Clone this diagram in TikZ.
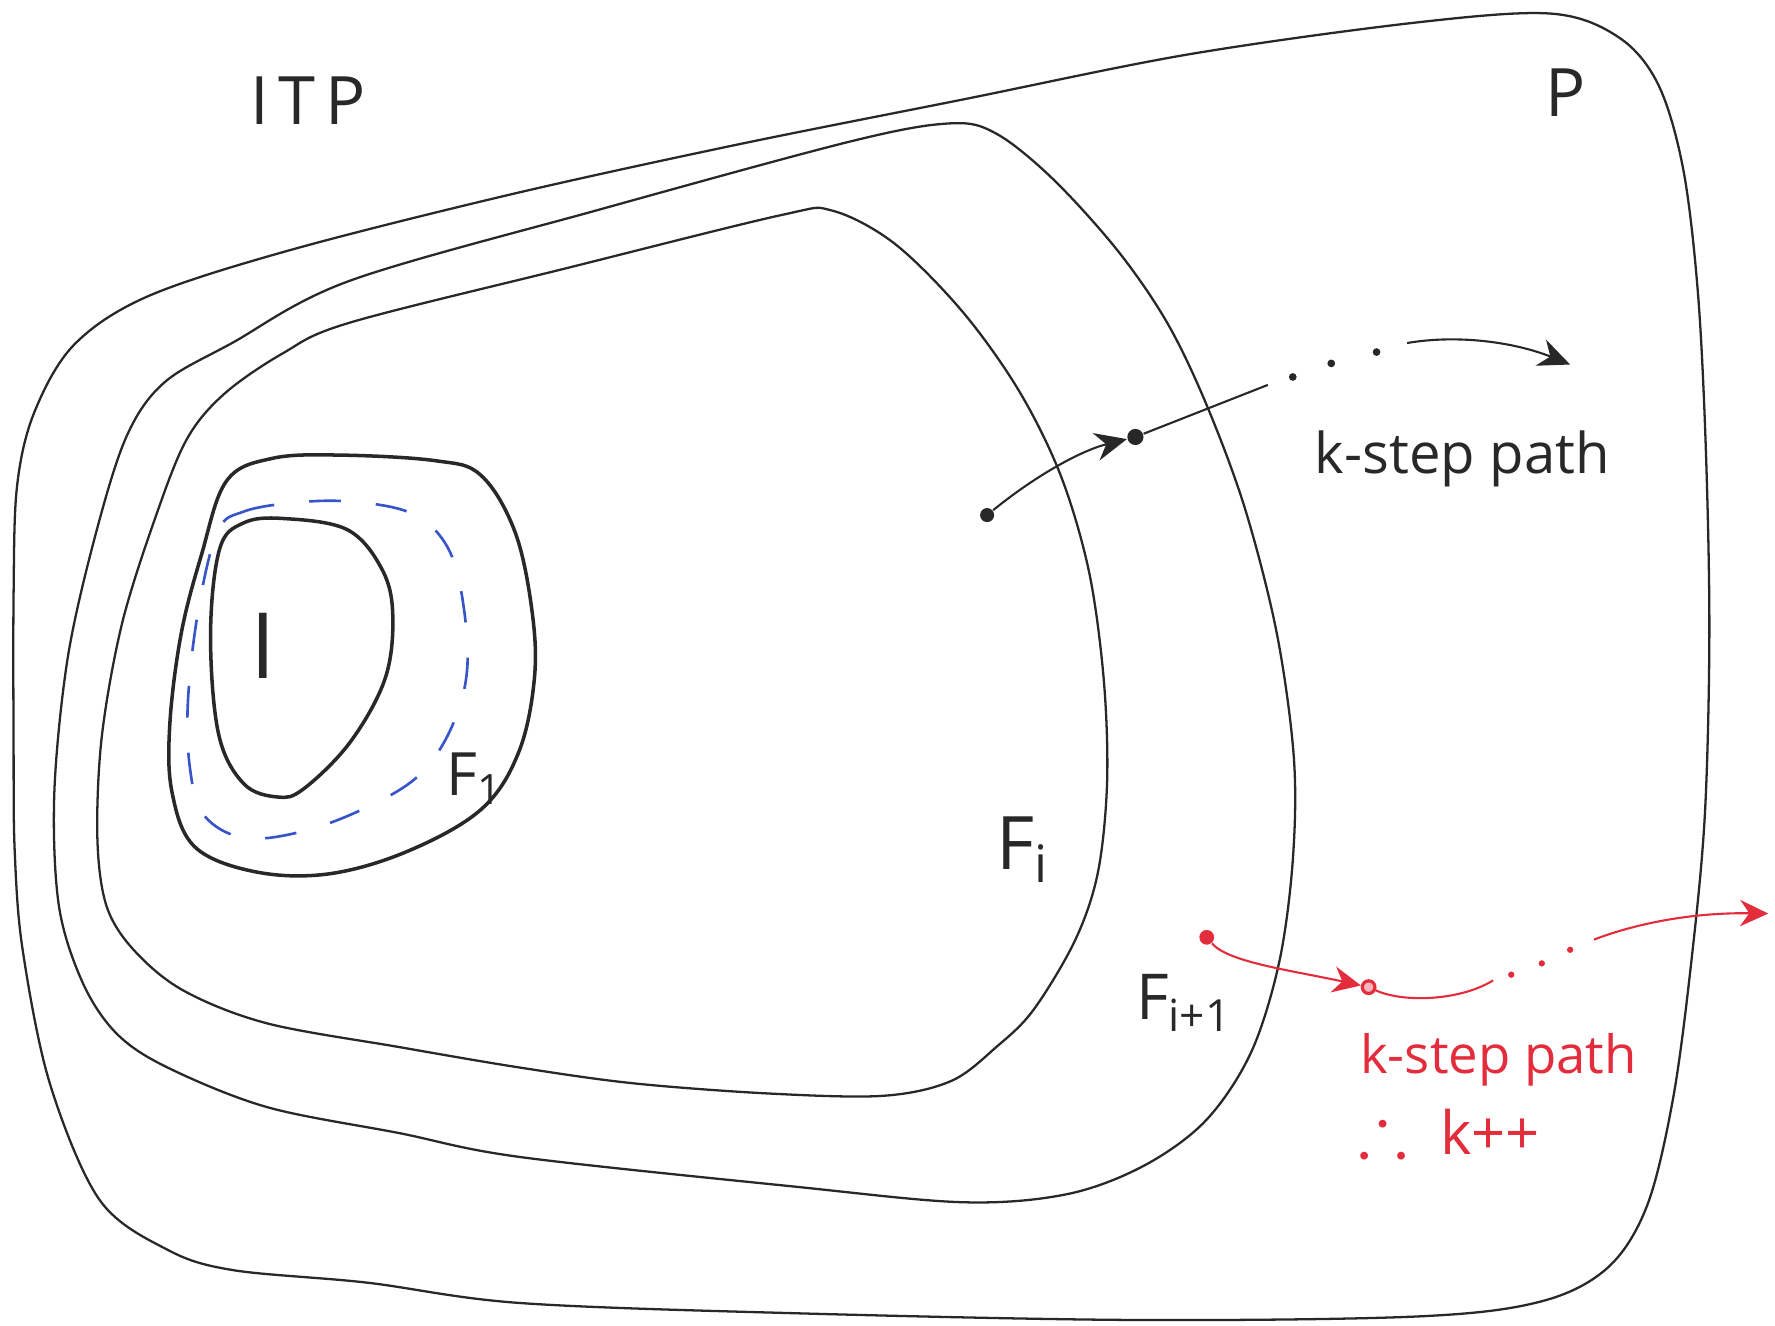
\documentclass[tikz,border=0pt]{standalone}
\usepackage{fontspec}
\setmainfont{Open Sans}
\usepackage{amssymb}
\usetikzlibrary{arrows.meta}

\definecolor{inkblack}{RGB}{40,40,40}
\definecolor{inkblue}{RGB}{55,85,200}
\definecolor{inkred}{RGB}{228,45,60}

\begin{document}
\begin{tikzpicture}[x=0.1132mm, y=-0.1132mm,
	region/.style={draw=inkblack, line width=0.65pt},
	core/.style={draw=inkblack, line width=1pt},
	guess/.style={draw=inkblue, line width=0.75pt, dash pattern=on 9pt off 10pt},
	lbl/.style={text=inkblack, inner sep=0pt, anchor=base west},
	bigdot/.style={circle, fill=inkblack, inner sep=0pt, minimum size=4pt},
	smalldot/.style={circle, fill=inkblack, inner sep=0pt, minimum size=2.2pt},
	redbig/.style={circle, fill=inkred, inner sep=0pt, minimum size=4.2pt},
	redring/.style={circle, draw=inkred, fill=inkred!35, line width=0.9pt, inner sep=0pt, minimum size=3.6pt},
	redsmall/.style={circle, fill=inkred, inner sep=0pt, minimum size=1.8pt},
	btrace/.style={draw=inkblack, line width=0.6pt, -{Stealth[length=9pt, width=8pt]}},
	rtrace/.style={draw=inkred, line width=0.6pt, -{Stealth[length=8pt, width=7.5pt]}},
]
\useasboundingbox (0,0) rectangle (1568,1171);

% P
\draw[region] plot[smooth cycle, tension=0.55] coordinates {
	(256,221) (450,172) (650,128) (850,88) (1050,48) (1250,20) (1370,12) (1430,33)
	(1465,75) (1487,150) (1500,260) (1507,400) (1510,560) (1506,720) (1494,850)
	(1478,970) (1455,1065) (1420,1120) (1360,1150) (1250,1163) (1000,1166) (700,1160)
	(459,1151) (324,1133) (206,1122) (148,1104) (88,1060) (44,957) (20,839) (13,752)
	(12,661) (12,525) (15,430) (30,365) (65,305) (130,262)};

% F_{i+1}
\draw[region] plot[smooth cycle, tension=0.55] coordinates {
	(309,248) (530,185) (751,125) (839,109) (880,118) (930,158) (987,221) (1031,285)
	(1066,358) (1100,450) (1128,560) (1143,670) (1142,760) (1130,850) (1105,930)
	(1065,990) (1010,1030) (942,1055) (850,1062) (700,1048) (459,1022) (353,1001)
	(236,978) (148,943) (103,913) (73,868) (52,800) (48,700) (60,580) (85,470)
	(112,385) (145,338) (205,303)};

% F_i
\draw[region] plot[smooth cycle, tension=0.55] coordinates {
	(309,285) (500,237) (690,190) (735,186) (790,215) (850,275) (900,345) (937,420)
	(962,505) (975,600) (978,690) (970,770) (950,830) (913,892) (880,925) (840,955)
	(780,968) (680,966) (560,957) (459,943) (353,925) (236,904) (162,875) (118,839)
	(94,800) (86,740) (90,650) (108,550) (138,455) (165,388) (198,348) (250,312)};

% F_1, I and the dashed guess
\draw[core] plot[smooth cycle, tension=0.6] coordinates {
	(200,425) (240,405) (300,402) (385,407) (425,420) (455,470) (470,540) (472,600)
	(458,665) (425,715) (360,752) (290,772) (225,770) (172,748) (152,700) (150,640)
	(160,560) (178,490)};
\draw[core] plot[smooth cycle, tension=0.6] coordinates {
	(215,462) (250,458) (307,468) (338,504) (347,545) (340,600) (309,656) (268,697)
	(245,704) (215,692) (193,648) (186,560) (194,485)};
\draw[guess] plot[smooth cycle, tension=0.6] coordinates {
	(192,470) (215,452) (260,444) (309,443) (360,452) (390,475) (406,515) (413,586)
	(400,640) (370,685) (320,715) (265,735) (215,740) (180,720) (168,680) (166,620)
	(175,540)};

% labels
\node[lbl, font=\fontsize{19}{22}\selectfont\addfontfeature{LetterSpace=14}] (itp) at (221,110) {ITP};
\node[lbl, font=\fontsize{19}{22}\selectfont] (prop) at (1365,103) {P};
\node[lbl, font=\fontsize{26}{30}\selectfont] (init) at (221,599) {I};
\node[lbl, font=\fontsize{17}{20}\selectfont] (fone) at (394,703) {F\textsubscript{1}};
\node[lbl, font=\fontsize{21}{24}\selectfont] (fi) at (880,768) {F\textsubscript{i}};
\node[lbl, font=\fontsize{18}{22}\selectfont] (fnext) at (1003,901) {F\textsubscript{i+1}};

% k-step path inside F_i
\node[bigdot] (b0) at (872,455) {};
\node[bigdot, minimum size=4.6pt] (b1) at (1003,386) {};
\coordinate (b2) at (1120,340);
\node[smalldot] (bd1) at (1142,333) {};
\node[smalldot] (bd2) at (1176,321) {};
\node[smalldot] (bd3) at (1216,311) {};
\coordinate (b3) at (1243,303);
\coordinate (b4) at (1387,322);
\draw[btrace] (b0) .. controls (915,420) and (955,398) .. (b1);
\draw[inkblack, line width=0.6pt] (b1) -- (b2);
\draw[btrace] (b3) .. controls (1290,295) and (1340,303) .. (b4);
\node[lbl, font=\fontsize{16}{19}\selectfont] (kpath) at (1161,418) {k-step path};

% k-step path leaving F_{i+1}
\node[redbig] (r0) at (1066,828) {};
\node[redring] (r1) at (1209,872) {};
\coordinate (r2) at (1319,866);
\node[redsmall] (rd1) at (1335,861) {};
\node[redsmall] (rd2) at (1362,851) {};
\node[redsmall] (rd3) at (1387,839) {};
\coordinate (r3) at (1408,830);
\coordinate (r4) at (1562,807);
\draw[rtrace] (r0) .. controls (1085,850) and (1140,857) .. (r1);
\draw[inkred, line width=0.6pt] (r1) .. controls (1240,886) and (1290,884) .. (r2);
\draw[rtrace] (r3) .. controls (1450,814) and (1500,806) .. (r4);
\node[lbl, text=inkred, font=\fontsize{15}{18}\selectfont] (kpathred) at (1201,948) {k-step path};
\node[lbl, text=inkred, font=\fontsize{17}{20}\selectfont] (kinc) at (1199,1020) {{\fontsize{21}{21}\selectfont$\therefore$}\hspace{0.55em}k++};
\end{tikzpicture}
\end{document}
